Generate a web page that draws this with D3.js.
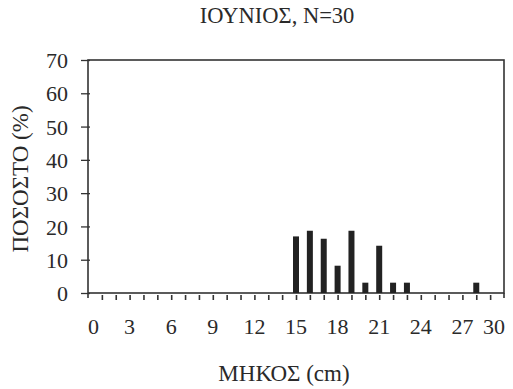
<!DOCTYPE html>
<html><head><meta charset="utf-8">
<script src="https://cdn.jsdelivr.net/npm/d3@7"></script>
<style>body{margin:0;background:#fff}svg{display:block}text{font-family:"Liberation Serif","Times New Roman",serif;fill:#2a2a2a}</style>
</head><body><svg id="c" width="513" height="389"></svg>
<script>
const lengths = [15,16,17,18,19,20,21,22,23,28];
const percents = [17,18.7,16.3,8.2,18.7,3.1,14.2,3.1,3.1,3.1];
const yTicks = [0,10,20,30,40,50,60,70];
const xTickLabels = [0,3,6,9,12,15,18,21,24,27,30];
const title = "ΙΟΥΝΙΟΣ, N=30";
const xTitle = "ΜΗΚΟΣ (cm)";
const yTitle = "ΠΟΣΟΣΤΟ (%)";

const svg = d3.select("#c");
const L=88,R=504,T=60,B=293;
const x = d3.scaleLinear().domain([0,30]).range([L,R]);
const y = d3.scaleLinear().domain([0,70]).range([B,T]);
const ink="#333";

// frame
svg.append("rect").attr("x",L).attr("y",T).attr("width",R-L).attr("height",B-T)
  .attr("fill","none").attr("stroke",ink).attr("stroke-width",1.6);

// bars
svg.selectAll(".bar").data(lengths).enter().append("rect")
  .attr("x",d=>x(d)-3).attr("width",6)
  .attr("y",(d,i)=>y(percents[i])).attr("height",(d,i)=>B-y(percents[i]))
  .attr("fill","#222");

// y axis ticks
const yAxis = d3.axisLeft(y).tickValues(yTicks).tickSize(9).tickPadding(13).tickSizeOuter(0);
const ga = svg.append("g").attr("transform",`translate(${L+2},0)`).call(yAxis);
ga.select(".domain").remove();
ga.selectAll("line").attr("stroke",ink).attr("stroke-width",1.3);
ga.selectAll("text").style("font-size","22px").attr("dy","0.35em").style("fill","#2a2a2a");

// x axis minor ticks (each integer)
const xAxis = d3.axisBottom(x).tickValues(d3.range(1,30)).tickSize(5).tickFormat("").tickSizeOuter(0);
const gx = svg.append("g").attr("transform",`translate(0,${B+2})`).call(xAxis);
gx.select(".domain").remove();
gx.selectAll("line").attr("stroke",ink).attr("stroke-width",1.6);
svg.append("line").attr("x1",L).attr("x2",L).attr("y1",B).attr("y2",B+5).attr("stroke",ink).attr("stroke-width",1.6);
svg.append("line").attr("x1",R).attr("x2",R).attr("y1",B).attr("y2",B+5).attr("stroke",ink).attr("stroke-width",1.6);

// x tick labels
svg.selectAll(".xl").data(xTickLabels).enter().append("text")
  .attr("x",d=>d===0?L:(d===30?R+1:x(d)))
  .attr("y",334)
  .attr("text-anchor",d=>d===0?"start":(d===30?"end":"middle"))
  .style("font-size","22px").text(d=>d);

// titles
svg.append("text").attr("x",277).attr("y",23).attr("text-anchor","middle").style("font-size","22.5px").text(title);
svg.append("text").attr("x",284).attr("y",381).attr("text-anchor","middle").style("font-size","23px").text(xTitle);
svg.append("text").attr("transform","translate(28,179) rotate(-90)").attr("text-anchor","middle").style("font-size","23px").text(yTitle);
</script></body></html>
